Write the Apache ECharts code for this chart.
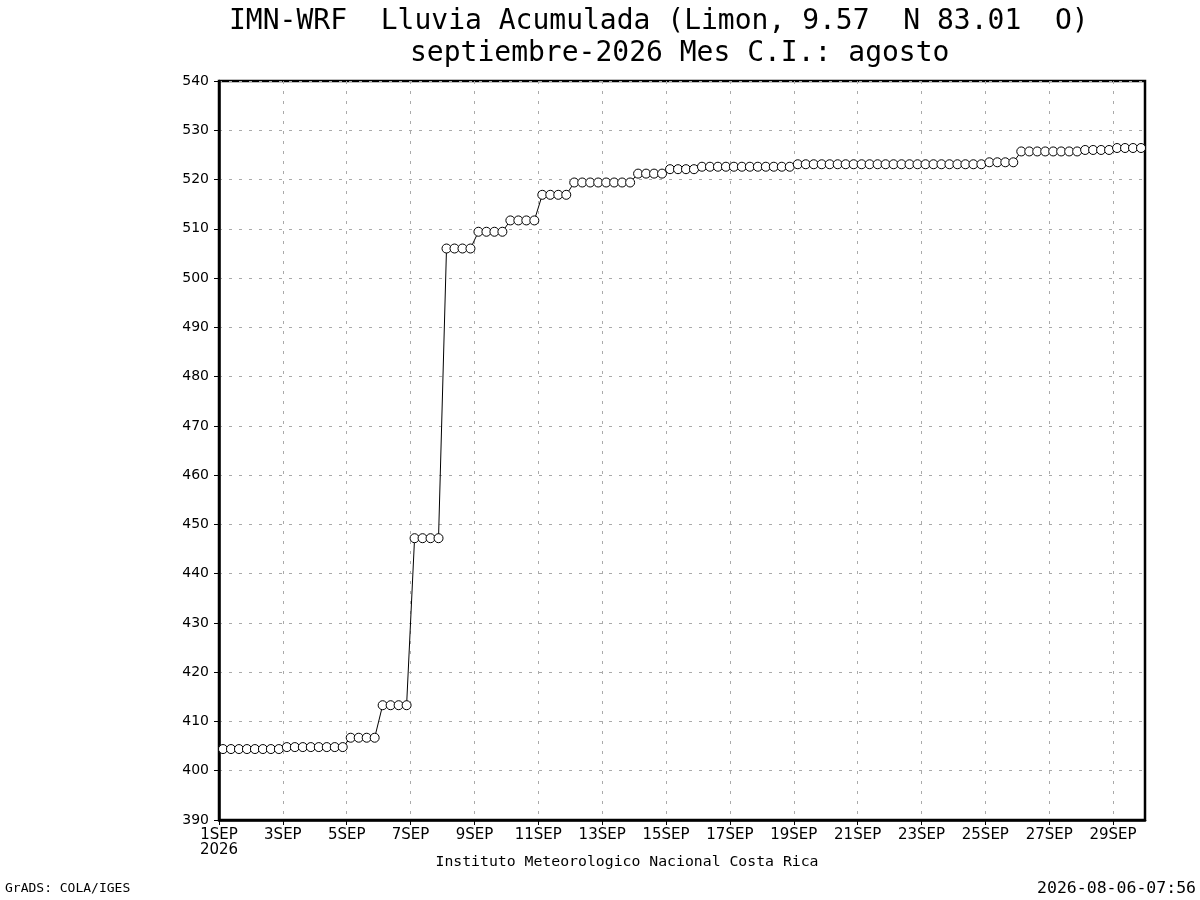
<!DOCTYPE html>
<html>
<head>
<meta charset="utf-8">
<script src="https://cdn.jsdelivr.net/npm/echarts@6/dist/echarts.min.js"></script>
<style>
html,body{margin:0;padding:0;background:#fff;}
#chart{width:1200px;height:900px;}
</style>
</head>
<body>
<div id="chart"></div>
<script>
// Accumulated rainfall (mm), 6-hourly samples at 03,09,15,21 UTC, 1SEP..29SEP 2026
const rainValues = [
  404.4, 404.4, 404.4, 404.4,   // 1SEP
  404.4, 404.4, 404.4, 404.4,   // 2SEP
  404.8, 404.8, 404.8, 404.8,   // 3SEP
  404.8, 404.8, 404.8, 404.8,   // 4SEP
  406.7, 406.7, 406.7, 406.7,   // 5SEP
  413.3, 413.3, 413.3, 413.3,   // 6SEP
  447.2, 447.2, 447.2, 447.2,   // 7SEP
  506.0, 506.0, 506.0, 506.0,   // 8SEP
  509.4, 509.4, 509.4, 509.4,   // 9SEP
  511.7, 511.7, 511.7, 511.7,   // 10SEP
  516.9, 516.9, 516.9, 516.9,   // 11SEP
  519.4, 519.4, 519.4, 519.4,   // 12SEP
  519.4, 519.4, 519.4, 519.4,   // 13SEP
  521.2, 521.2, 521.2, 521.2,   // 14SEP
  522.1, 522.1, 522.1, 522.1,   // 15SEP
  522.6, 522.6, 522.6, 522.6,   // 16SEP
  522.6, 522.6, 522.6, 522.6,   // 17SEP
  522.6, 522.6, 522.6, 522.6,   // 18SEP
  523.1, 523.1, 523.1, 523.1,   // 19SEP
  523.1, 523.1, 523.1, 523.1,   // 20SEP
  523.1, 523.1, 523.1, 523.1,   // 21SEP
  523.1, 523.1, 523.1, 523.1,   // 22SEP
  523.1, 523.1, 523.1, 523.1,   // 23SEP
  523.1, 523.1, 523.1, 523.1,   // 24SEP
  523.5, 523.5, 523.5, 523.5,   // 25SEP
  525.7, 525.7, 525.7, 525.7,   // 26SEP
  525.7, 525.7, 525.7, 525.7,   // 27SEP
  526.0, 526.0, 526.0, 526.0,   // 28SEP
  526.4, 526.4, 526.4, 526.4    // 29SEP
];
// sample times in hours since 1SEP 00Z
const sampleHours = rainValues.map((_, i) => 3 + 6 * i);
const xTickHours = [0, 48, 96, 144, 192, 240, 288, 336, 384, 432, 480, 528, 576, 624, 672];
const monthLabel = 'SEP';
const yearLabel = '2026';
const titleLine1 = 'IMN-WRF  Lluvia Acumulada (Limon, 9.57  N 83.01  O)';
const titleLine2 = 'septiembre-2026 Mes C.I.: agosto';
const footerCenter = 'Instituto Meteorologico Nacional Costa Rica';
const footerLeft = 'GrADS: COLA/IGES';
const footerRight = '2026-08-06-07:56';

const seriesData = sampleHours.map((h, i) => [h, rainValues[i]]);

const chart = echarts.init(document.getElementById('chart'), null, {renderer: 'canvas'});
const gridLine = {show: true, lineStyle: {color: '#aaaaaa', width: 1, type: [3, 7]}};
chart.setOption({
  backgroundColor: '#ffffff',
  animation: false,
  grid: {left: 219, right: 55, top: 81, bottom: 80, show: true, borderColor: '#000', borderWidth: 2.5, backgroundColor: 'transparent'},
  xAxis: {
    type: 'value', min: 0, max: 696, interval: 48,
    axisLine: {show: true, lineStyle: {color: '#000', width: 2.5}},
    axisTick: {show: true, length: 5, lineStyle: {color: '#000', width: 1}, customValues: xTickHours},
    axisLabel: {
      customValues: xTickHours,
      color: '#000', fontFamily: 'DejaVu Sans', fontSize: 15, margin: 8, lineHeight: 15,
      formatter: v => {
        const d = Math.round(v / 24) + 1;
        return v === 0 ? d + monthLabel + '\n' + yearLabel : d + monthLabel;
      }
    },
    splitLine: gridLine
  },
  yAxis: {
    type: 'value', min: 390, max: 540, interval: 10,
    axisLine: {show: true, lineStyle: {color: '#000', width: 2.5}},
    axisTick: {show: true, length: 5, lineStyle: {color: '#000', width: 1}},
    axisLabel: {color: '#000', fontFamily: 'DejaVu Sans', fontSize: 14, margin: 10},
    splitLine: gridLine
  },
  series: [{
    type: 'line',
    data: seriesData,
    symbol: 'circle',
    symbolSize: 9,
    showAllSymbol: true,
    lineStyle: {color: '#000', width: 1},
    itemStyle: {color: '#fff', borderColor: '#000', borderWidth: 1},
    clip: true
  }],
  graphic: [
    {type: 'text', x: 229, y: 8, style: {text: titleLine1, font: '28px "DejaVu Sans Mono"', fill: '#000', textAlign: 'left', textVerticalAlign: 'top'}},
    {type: 'text', x: 410, y: 40, style: {text: titleLine2, font: '28px "DejaVu Sans Mono"', fill: '#000', textAlign: 'left', textVerticalAlign: 'top'}},
    {type: 'text', x: 627, y: 862, style: {text: footerCenter, font: '14.8px "DejaVu Sans Mono"', fill: '#000', textAlign: 'center', textVerticalAlign: 'middle'}},
    {type: 'text', x: 5, y: 889, style: {text: footerLeft, font: '13px "DejaVu Sans Mono"', fill: '#000', textAlign: 'left', textVerticalAlign: 'middle'}},
    {type: 'text', x: 1196, y: 889, style: {text: footerRight, font: '16.5px "DejaVu Sans Mono"', fill: '#000', textAlign: 'right', textVerticalAlign: 'middle'}}
  ]
});
</script>
</body>
</html>
